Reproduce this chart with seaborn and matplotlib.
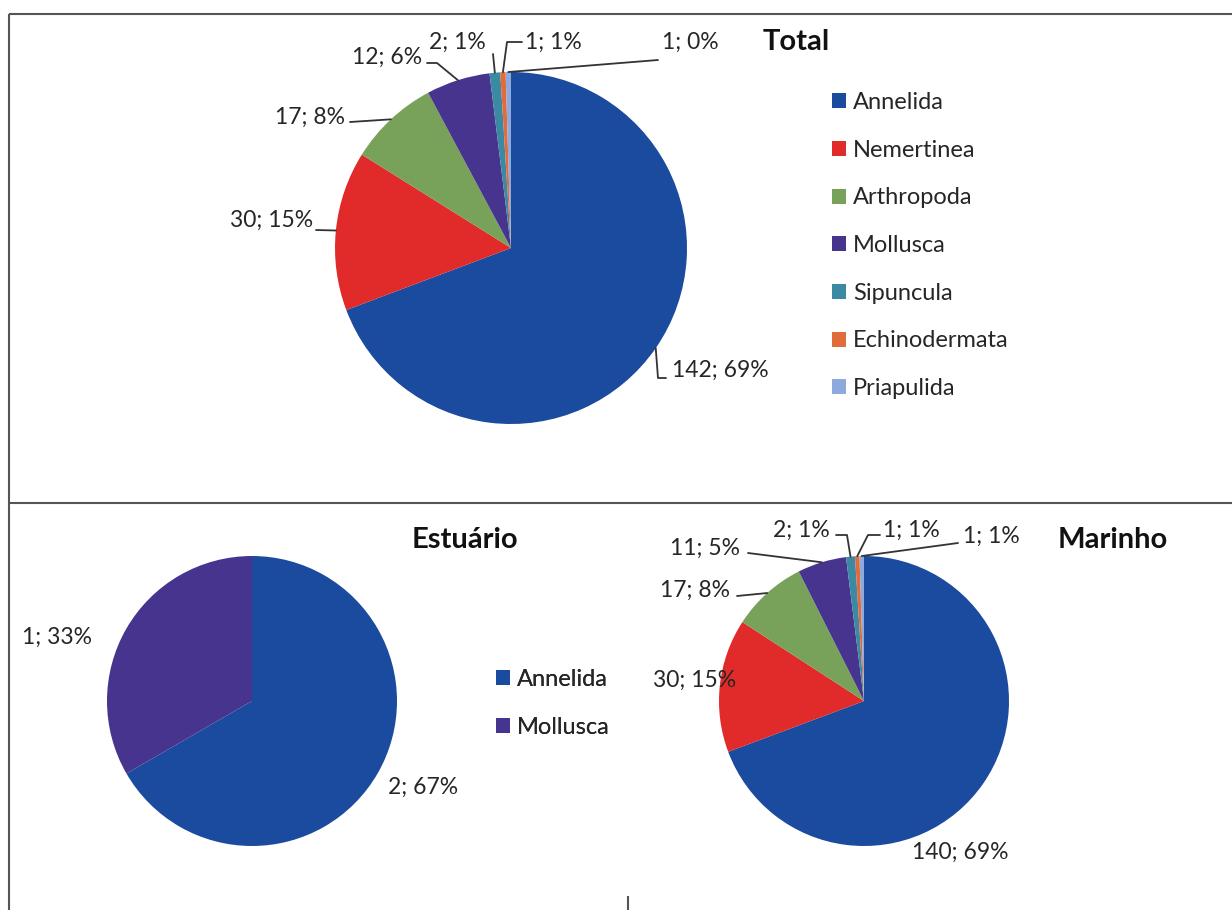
import numpy as np
import matplotlib.pyplot as plt
import seaborn as sns

W, H = 1232, 910

# data
phyla = ["Annelida", "Nemertinea", "Arthropoda", "Mollusca",
         "Sipuncula", "Echinodermata", "Priapulida"]
phyla_colors = ["#1B4B9E", "#E12A2A", "#78A25A", "#47348E",
                "#3B89A3", "#E06B3B", "#8EA9DB"]

total_counts = [142, 30, 17, 12, 2, 1, 1]
total_pct = [69, 15, 8, 6, 1, 1, 0]

estuario_phyla = ["Annelida", "Mollusca"]
estuario_counts = [2, 1]
estuario_pct = [67, 33]

marinho_counts = [140, 30, 17, 11, 2, 1, 1]
marinho_pct = [69, 15, 8, 5, 1, 1, 1]

sns.set_theme(style="white")
plt.rcParams["font.family"] = ["Lato", "DejaVu Sans"]
TXT = "#262626"
LINE = "#333333"
LABEL_FS = 16.5
LEGEND_FS = 17
TITLE_FS = 21

fig = plt.figure(figsize=(W / 100, H / 100), dpi=100)

# overlay axes in pixel coords for frame, labels, leaders, legends
bg = fig.add_axes([0, 0, 1, 1])
bg.set_xlim(0, W)
bg.set_ylim(H, 0)
bg.axis("off")
bg.patch.set_alpha(0)
bg.set_zorder(10)

# frame lines of the scanned table
for xs, ys in [((9, W), (14, 14)), ((9, 9), (14, H)), ((9, W), (503, 503)), ((628, 628), (896, H))]:
    bg.plot(xs, ys, color="#555555", lw=1.5, solid_capstyle="butt")


def draw_pie(cx, cy, r, counts, cols):
    ax = fig.add_axes([(cx - r) / W, (H - cy - r) / H, 2 * r / W, 2 * r / H])
    wedges, _ = ax.pie(counts, colors=cols, startangle=90, counterclock=False,
                       wedgeprops=dict(linewidth=0))
    ax.set_xlim(-1, 1)
    ax.set_ylim(-1, 1)
    return ax, wedges


def edge_point(ax, wedge):
    mid = np.deg2rad((wedge.theta1 + wedge.theta2) / 2)
    px, py = ax.transData.transform((np.cos(mid), np.sin(mid)))
    return px, H - py


def add_labels(ax, wedges, counts, pct, layout):
    for w, n, p, (tx, ty, ha, pts) in zip(wedges, counts, pct, layout):
        bg.text(tx, ty, f"{n}; {p}%", ha=ha, va="center", fontsize=LABEL_FS, color=TXT)
        if pts:
            ex, ey = edge_point(ax, w)
            xs = [q[0] for q in pts] + [ex]
            ys = [q[1] for q in pts] + [ey]
            bg.plot(xs, ys, color=LINE, lw=1.3)


def add_legend(wedges, labels, x, y):
    leg = bg.legend(wedges, labels, loc="upper left", bbox_to_anchor=(x, y),
                    bbox_transform=bg.transData, frameon=False, fontsize=LEGEND_FS,
                    handlelength=0.6, handleheight=0.6, handletextpad=0.3,
                    labelspacing=1.13, borderpad=0, borderaxespad=0, labelcolor=TXT)
    bg.add_artist(leg)
    return leg


def add_title(x, y, s):
    bg.text(x, y, s, ha="left", va="center", fontsize=TITLE_FS, fontweight="bold", color="#111111")


# Total
ax_t, w_t = draw_pie(511, 248, 176, total_counts, phyla_colors)
total_layout = [
    (672, 370, "left", [(666, 378), (658, 378)]),
    (313, 220, "right", [(316, 230)]),
    (345, 117, "right", [(350, 122)]),
    (422, 57, "right", [(427, 63), (437, 63)]),
    (486, 42, "right", [(493, 54)]),
    (525, 42, "left", [(522, 42), (507, 42)]),
    (662, 42, "left", [(658, 60)]),
]
add_labels(ax_t, w_t, total_counts, total_pct, total_layout)
add_title(763, 42, "Total")
add_legend(w_t, phyla, 832, 92)

# Estuário
est_colors = [phyla_colors[phyla.index(p)] for p in estuario_phyla]
ax_e, w_e = draw_pie(252, 701, 145, estuario_counts, est_colors)
est_layout = [
    (388, 787, "left", None),
    (22, 637, "left", None),
]
add_labels(ax_e, w_e, estuario_counts, estuario_pct, est_layout)
add_title(412, 540, "Estuário")
add_legend(w_e, estuario_phyla, 496, 669)

# Marinho
ax_m, w_m = draw_pie(864, 701, 145, marinho_counts, phyla_colors)
mar_layout = [
    (912, 852, "left", None),
    (653, 680, "left", None),
    (730, 590, "right", [(737, 596)]),
    (740, 548, "right", [(748, 553)]),
    (830, 530, "right", [(836, 535), (847, 535)]),
    (883, 530, "left", [(880, 535), (868, 535)]),
    (963, 536, "left", [(958, 543)]),
]
add_labels(ax_m, w_m, marinho_counts, marinho_pct, mar_layout)
add_title(1058, 540, "Marinho")

fig.savefig("out.png", dpi=100, facecolor="white")
